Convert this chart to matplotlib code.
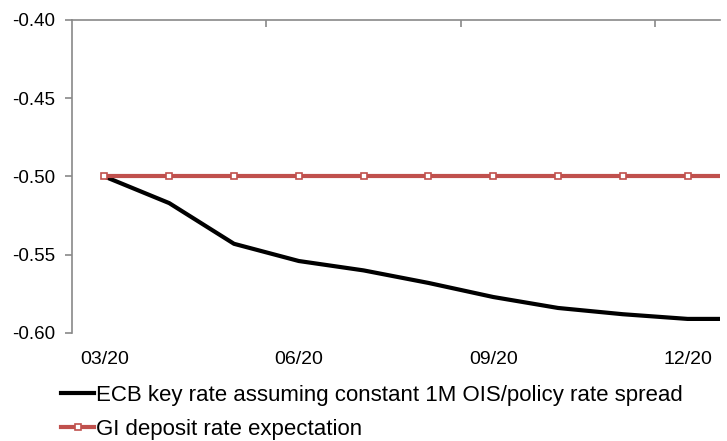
import matplotlib
matplotlib.use('Agg')
import matplotlib.pyplot as plt
from matplotlib.ticker import FixedLocator

plt.rcParams['font.family'] = ['Liberation Sans', 'DejaVu Sans']

# Monthly categories (last point sits beyond the visible axis edge)
months = ['03/20', '04/20', '05/20', '06/20', '07/20', '08/20',
          '09/20', '10/20', '11/20', '12/20', '01/21']
ecb_rate = [-0.500, -0.517, -0.543, -0.554, -0.560, -0.568,
            -0.577, -0.584, -0.588, -0.591, -0.591]
gi_rate = [-0.50, -0.50, -0.50, -0.50, -0.50, -0.50,
           -0.50, -0.50, -0.50, -0.50, -0.50]
y_ticks = [-0.60, -0.55, -0.50, -0.45, -0.40]

red = '#C0504D'
grey = '#898989'

fig = plt.figure(figsize=(7.27, 4.41), dpi=100)
ax = fig.add_axes([72/727, 1-333/441, (720-72)/727, (333-20)/441])

x = list(range(len(months)))
ax.plot(x, ecb_rate, color='black', linewidth=3.0,
        label='ECB key rate assuming constant 1M OIS/policy rate spread', zorder=2)
ax.plot(x, gi_rate, color=red, linewidth=3.0, marker='s', markersize=4.5,
        markerfacecolor='white', markeredgecolor=red, markeredgewidth=1.2,
        label='GI deposit rate expectation', zorder=3)

ax.set_xlim(-0.5, 9.5)
ax.set_ylim(-0.60, -0.40)

# labels every 3 months, no tick marks at the labels
ax.set_xticks(x[::3])
ax.set_xticklabels(months[::3])
ax.xaxis.set_minor_locator(FixedLocator([2.5, 5.5, 8.5]))
ax.tick_params(axis='x', which='major', length=0, pad=13, labelsize=14)
ax.tick_params(axis='x', which='minor', top=True, bottom=False,
               direction='in', length=5, color=grey, width=1.2)

ax.set_yticks(y_ticks)
ax.set_yticklabels(['%.2f' % v for v in y_ticks])
ax.tick_params(axis='y', length=5, color=grey, width=1.2, pad=7, labelsize=13.5)

for side in ['right', 'bottom']:
    ax.spines[side].set_visible(False)
for side in ['top', 'left']:
    ax.spines[side].set_color(grey)
    ax.spines[side].set_linewidth(1.2)

fig.legend(loc='upper left', bbox_to_anchor=(52/727, 1-376/441), frameon=False,
           fontsize=16, handlelength=1.5, handletextpad=0.1, labelspacing=0.6,
           borderaxespad=0)

fig.savefig('out.png', dpi=100)
